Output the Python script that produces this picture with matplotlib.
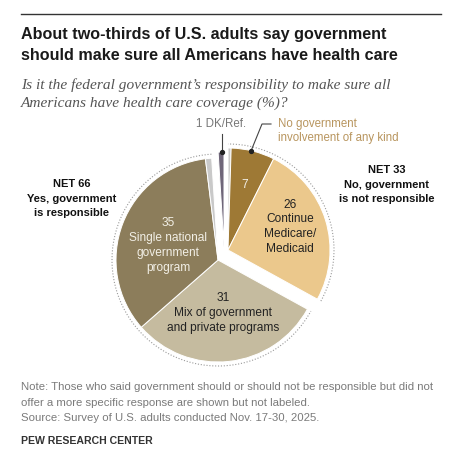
import matplotlib
matplotlib.use("Agg")
import matplotlib.pyplot as plt
from matplotlib.patches import Arc

W, H = 458, 455

# data (share of U.S. adults, %)
slice_names = ["No, unlabeled", "No government involvement", "Continue Medicare/Medicaid",
               "Mix of government and private", "Single national government", "Yes, unlabeled", "DK/Ref."]
slice_values = [0.5, 7, 26, 31, 35, 1, 1]
slice_groups = ["no", "no", "no", "yes", "yes", "yes", "dk"]
net_no = 33
net_yes = 66
dk_value = 1

colors = ["#c9c9c9", "#9e7935", "#ebc88c", "#c5bb9f", "#8c7d5b", "#c9c9c9", "#6f6679"]

FONT = "Liberation Sans"


def Y(py):
    # pixel row (from top) -> data y
    return H - py


def lines(x, py, text, step, **kw):
    # one text per line, baselines step px apart
    for i, s in enumerate(text.split("\n")):
        ax.text(x, Y(py + step * i), s, va="baseline", **kw)


fig = plt.figure(figsize=(W / 100, H / 100), dpi=100)
ax = fig.add_axes([0, 0, 1, 1])

# pie centre of the "yes" part, other groups get pulled out
cx, cy, R = 218, Y(260), 102
offsets = {"yes": (0, 0), "no": (10, 10), "dk": (6, 13)}

wedges, _ = ax.pie(slice_values, colors=colors, startangle=90, counterclock=False,
                   center=(cx, cy), radius=R,
                   wedgeprops=dict(edgecolor="white", linewidth=0.7))
for w, g in zip(wedges, slice_groups):
    dx, dy = offsets[g]
    w.set_center((cx + dx, cy + dy))
    if g == "dk":
        w.set_radius(95)

ax.set_xlim(0, W)
ax.set_ylim(0, H)
ax.set_aspect("auto")
ax.axis("off")

# dotted outline round each NET group
for g in ["no", "yes"]:
    ws = [w for w, gg in zip(wedges, slice_groups) if gg == g]
    t1 = min(w.theta1 for w in ws)
    t2 = max(w.theta2 for w in ws)
    dx, dy = offsets[g]
    ax.add_patch(Arc((cx + dx, cy + dy), 2 * (R + 4), 2 * (R + 4), theta1=t1, theta2=t2,
                     color="#9a9a9a", lw=0.8, linestyle=(0, (1, 1.6))))

# slice labels
lab_dark = "#222222"
lab_light = "#f2efe6"
lines(168, 226, "%d\nSingle national\ngovernment\nprogram" % slice_values[4], 15, ha="center",
      fontsize=8.6, color=lab_light, family=FONT)
lines(245, 188, "%d" % slice_values[1], 15, ha="center", fontsize=8.6, color=lab_light, family=FONT)
lines(290, 208, "%d\nContinue\nMedicare/\nMedicaid" % slice_values[2], 14.5, ha="center",
      fontsize=8.6, color=lab_dark, family=FONT)
lines(223, 301, "%d\nMix of government\nand private programs" % slice_values[3], 15, ha="center",
      fontsize=8.6, color=lab_dark, family=FONT)

# NET labels
lines(387, 173, "NET %d\nNo, government\nis not responsible" % net_no, 14.5, ha="center",
      fontsize=8.0, fontweight="bold", color="#111111", family=FONT)
lines(72, 187, "NET %d\nYes, government\nis responsible" % net_yes, 14.5, ha="center",
      fontsize=8.0, fontweight="bold", color="#111111", family=FONT)

# callouts
ax.text(246, Y(127), "%d DK/Ref." % dk_value, ha="right", va="baseline", fontsize=8.3, color="#777777", family=FONT)
ax.plot([222, 222], [Y(134), Y(152)], color="#444444", lw=0.8)
ax.plot([222], [Y(152)], "o", color="#222222", ms=2.8)
lines(278, 127, "No government\ninvolvement of any kind", 14, ha="left", fontsize=8.3,
      color="#b8955e", family=FONT)
ax.plot([271, 262, 251], [Y(124), Y(124), Y(151)], color="#444444", lw=0.8)
ax.plot([251], [Y(151)], "o", color="#222222", ms=2.8)

# header
ax.plot([21, 441], [Y(14), Y(14)], color="#333333", lw=1.0)
lines(21, 39, "About two-thirds of U.S. adults say government\nshould make sure all Americans have health care",
      21, ha="left", fontsize=11.6, fontweight="bold", color="#1a1a1a", family=FONT)
lines(21, 89, "Is it the federal government\u2019s responsibility to make sure all\n"
      "Americans have health care coverage (%)?", 18, ha="left", fontsize=11.1, style="italic",
      color="#555555", family="Liberation Serif")

# footer
lines(21, 390, "Note: Those who said government should or should not be responsible but did not\n"
      "offer a more specific response are shown but not labeled.\n"
      "Source: Survey of U.S. adults conducted Nov. 17-30, 2025.", 15.5, ha="left",
      fontsize=8.2, color="#7a7a7a", family=FONT)
ax.text(21, Y(444), "PEW RESEARCH CENTER", ha="left", va="baseline", fontsize=7.6, fontweight="bold",
        color="#333333", family=FONT)

fig.savefig("out.png", dpi=100)
